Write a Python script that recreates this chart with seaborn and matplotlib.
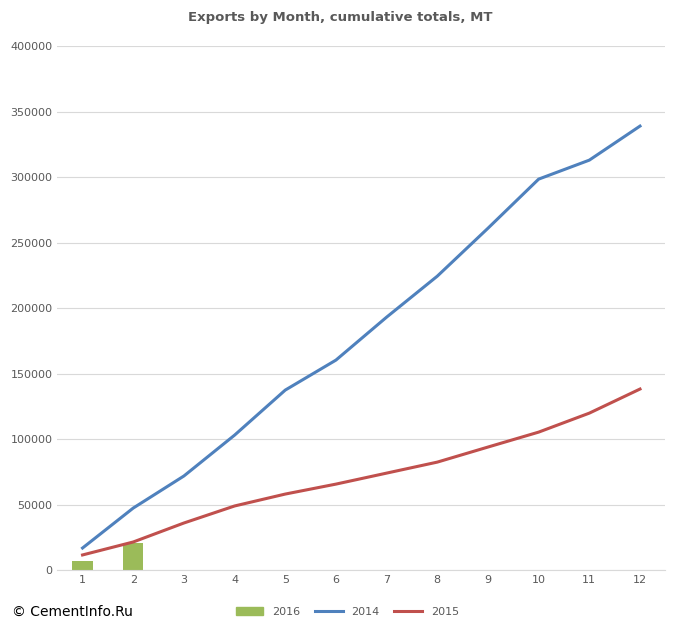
import matplotlib
matplotlib.use("Agg")
import matplotlib.pyplot as plt
import seaborn as sns
import pandas as pd
from matplotlib.lines import Line2D
from matplotlib.patches import Patch

months = list(range(1, 13))
exports_2014 = [16800, 47300, 71800, 103000, 137400, 160300, 193100, 224400, 261000, 298500, 313000, 339000]
exports_2015 = [11500, 21400, 35900, 48900, 58000, 65600, 74000, 82400, 93900, 105300, 119800, 138200]
months_2016 = [1, 2]
exports_2016 = [6900, 20600]

plt.rcParams["font.family"] = "DejaVu Sans"
fig = plt.figure(figsize=(6.81, 6.33), dpi=100)
ax = fig.add_axes([0.084, 0.0995, 0.893, 0.8275])

df16 = pd.DataFrame({"m": months_2016, "v": exports_2016})
sns.barplot(data=df16, x="m", y="v", native_scale=True, color="#9BBB59", width=0.4, ax=ax, saturation=1)
sns.lineplot(x=months, y=exports_2014, color="#4F81BD", lw=2.2, ax=ax)
sns.lineplot(x=months, y=exports_2015, color="#C0504D", lw=2.2, ax=ax)

ax.set_xlim(0.5, 12.5)
ax.set_ylim(0, 400000)
ax.set_xticks(months)
ax.set_yticks(range(0, 400001, 50000))
ax.tick_params(length=0, labelsize=8, colors="#595959")
ax.grid(axis="y", color="#D9D9D9", lw=0.8)
ax.set_axisbelow(True)
for s in ["top", "right", "left"]:
    ax.spines[s].set_visible(False)
ax.spines["bottom"].set_color("#D9D9D9")
ax.set_xlabel("")
ax.set_ylabel("")

fig.text(0.5, 0.972, "Exports by Month, cumulative totals, MT", ha="center", va="center",
         fontsize=9.5, color="#595959", fontweight="bold")
fig.text(0.018, 0.033, "© CementInfo.Ru", ha="left", va="center", fontsize=10, color="black")

handles = [Patch(color="#9BBB59"), Line2D([], [], color="#4F81BD", lw=2.2), Line2D([], [], color="#C0504D", lw=2.2)]
fig.legend(handles, ["2016", "2014", "2015"], loc="center", bbox_to_anchor=(0.51, 0.033), ncol=3,
           frameon=False, fontsize=8, handlelength=2.5, columnspacing=1.3)
for t in fig.legends[0].get_texts():
    t.set_color("#595959")

fig.savefig("out.png", dpi=100)
